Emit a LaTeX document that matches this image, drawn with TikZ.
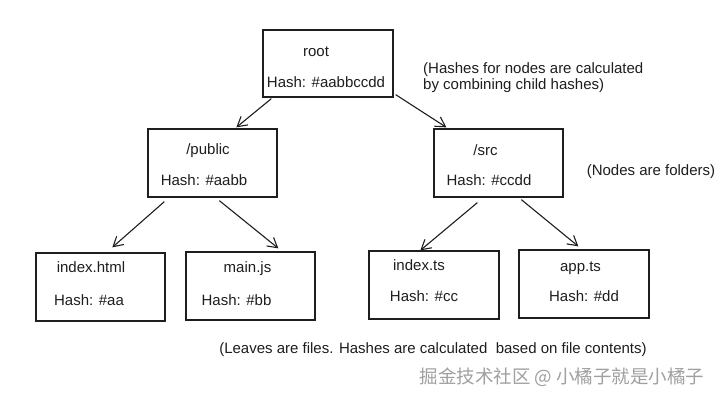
\documentclass[tikz,border=0pt]{standalone}
\usepackage{fontspec}
\setmainfont{Liberation Sans}
\newfontfamily\cjkfont{Noto Sans CJK SC}
\usetikzlibrary{arrows.meta,calc}
\definecolor{ink}{HTML}{1E1E1E}
\definecolor{wm}{HTML}{A0A0A0}
\begin{document}
\begin{tikzpicture}[x=1pt,y=-1pt,
  box/.style={draw=ink,line width=1.3pt,inner sep=0pt,minimum height=68pt,minimum width=129pt},
  lbl/.style={anchor=base,inner sep=0pt,text=ink,font=\fontsize{15}{18}\selectfont},
  note/.style={anchor=base west,inner sep=0pt,text=ink,font=\fontsize{15}{18}\selectfont},
  arr/.style={draw=ink,line width=1.1pt,-{Straight Barb[length=9.5pt,width=11pt,line width=1.1pt]}}]
\useasboundingbox[fill=white] (0,0) rectangle (720,400);
% boxes
\node[box,minimum width=130pt,minimum height=67pt] (root) at (328,63.5) {};
\node[box] (public) at (212.5,163) {};
\node[box] (src) at (498.5,163) {};
\node[box] (idxhtml) at (100.5,287) {};
\node[box] (mainjs) at (250.5,286) {};
\node[box,minimum width=130pt] (idxts) at (434,285) {};
\node[box,minimum width=130pt] (appts) at (584,284) {};
% labels
\node[lbl] (troot) at (316,56) {root};
\node[lbl] (hroot) at (326,87) {Hash: \#aabbccdd};
\node[lbl] (tpub) at (208,154) {/public};
\node[lbl] (hpub) at (204,185) {Hash: \#aabb};
\node[lbl] (tsrc) at (485.5,155) {/src};
\node[lbl] (hsrc) at (489,185) {Hash: \#ccdd};
\node[lbl] (tih) at (91,272) {index.html};
\node[lbl] (hih) at (89,305) {Hash: \#aa};
\node[lbl] (tmj) at (247.5,272) {main.js};
\node[lbl] (hmj) at (236.5,305) {Hash: \#bb};
\node[lbl] (tit) at (419,270) {index.ts};
\node[lbl] (hit) at (424,301) {Hash: \#cc};
\node[lbl] (tat) at (580.5,271) {app.ts};
\node[lbl] (hat) at (584,301) {Hash: \#dd};
% notes
\node[note] (n1) at (423,73) {(Hashes for nodes are calculated};
\node[note] (n2) at (423,89) {by combining child hashes)};
\node[lbl] (n3) at (651,175) {(Nodes are folders)};
\node[lbl] (n4) at (433,353) {(Leaves are files. Hashes are calculated\ \ based on file contents)};
\node[anchor=base,inner sep=0pt,text=wm,font=\cjkfont\fontsize{18.5}{20}\selectfont] (wmk) at (562,383) {掘金技术社区 @ 小橘子就是小橘子};
% arrows
\draw[arr] ($(root.south west)+(9,1)$) -- ($(public.north west)+(89,-1)$);
\draw[arr] ($(root.south east)+(2,-3)$) -- ($(src.north west)+(13,-1)$);
\draw[arr] ($(public.south west)+(17,4)$) -- ($(idxhtml.north west)+(77,-5)$);
\draw[arr] ($(public.south west)+(72,3)$) -- ($(mainjs.north west)+(93,-3)$);
\draw[arr] ($(src.south west)+(44,5)$) -- ($(idxts.north west)+(52,0)$);
\draw[arr] ($(src.south west)+(88,2)$) -- ($(appts.north west)+(60,-3)$);
\end{tikzpicture}
\end{document}
